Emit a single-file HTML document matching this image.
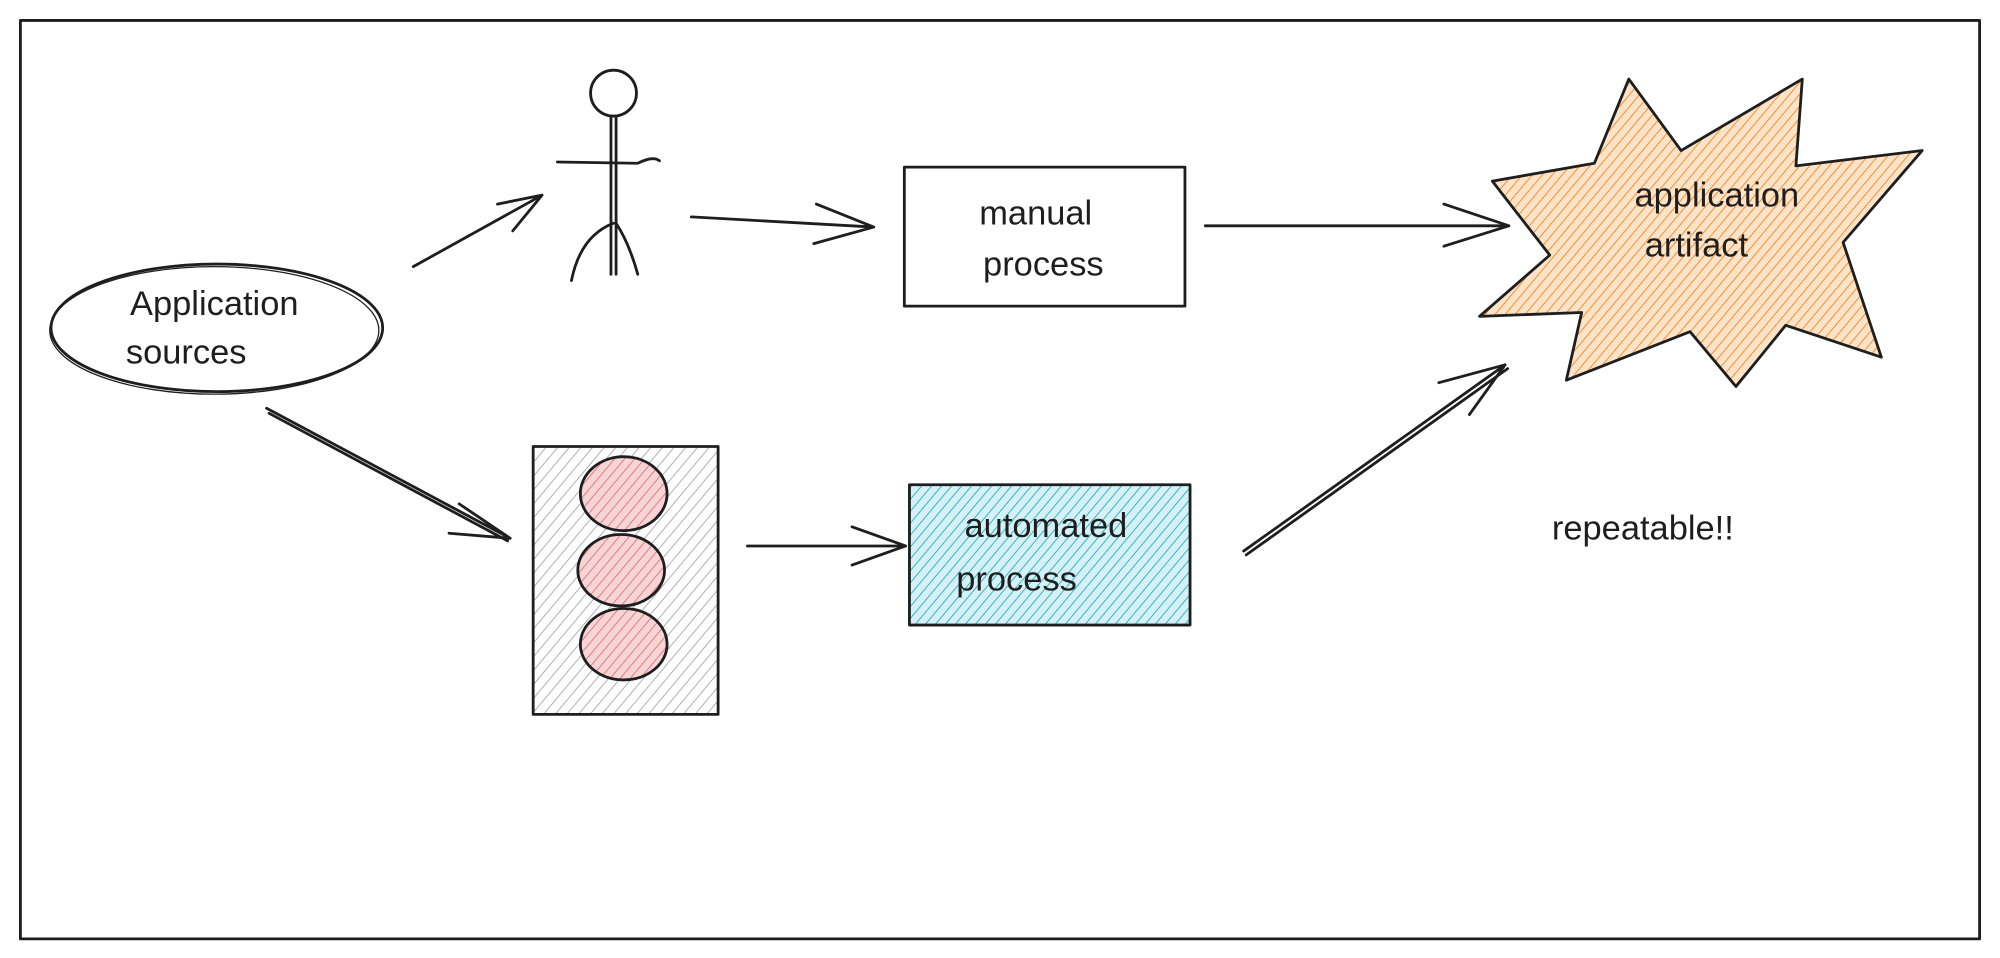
<!DOCTYPE html>
<html><head><meta charset="utf-8"><style>
html,body{margin:0;padding:0;background:#fff;}
svg{display:block;}
text{font-family:"Liberation Sans",sans-serif;font-size:27px;fill:#1e1e1e;text-anchor:middle;}
</style></head><body>
<svg width="2000" height="958" viewBox="0 0 1568 751" preserveAspectRatio="none">
<defs>
<pattern id="hg" width="7" height="7" patternUnits="userSpaceOnUse" patternTransform="rotate(40)"><line x1="0" y1="0" x2="0" y2="7" stroke="#999" stroke-width="1.2"/></pattern>
<pattern id="hr" width="6" height="6" patternUnits="userSpaceOnUse" patternTransform="rotate(40)"><rect width="6" height="6" fill="#f8d5d5"/><line x1="0" y1="0" x2="0" y2="6" stroke="#e06070" stroke-width="1.2"/></pattern>
<pattern id="hc" width="6" height="6" patternUnits="userSpaceOnUse" patternTransform="rotate(40)"><rect width="6" height="6" fill="#d6f1f6"/><line x1="0" y1="0" x2="0" y2="6" stroke="#15aabf" stroke-width="1.3"/></pattern>
<pattern id="ho" width="6" height="6" patternUnits="userSpaceOnUse" patternTransform="rotate(40)"><rect width="6" height="6" fill="#fde3c8"/><line x1="0" y1="0" x2="0" y2="6" stroke="#fd7e14" stroke-width="1.3"/></pattern>
</defs>
<g fill="none" stroke="#1e1e1e" stroke-width="2.2" stroke-linecap="round" stroke-linejoin="round">
<rect x="16" y="16" width="1536" height="720"/>
<ellipse cx="170" cy="257" rx="130" ry="50"/>
<ellipse cx="168" cy="259" rx="129" ry="50" stroke-width="1"/>
<circle cx="481" cy="73" r="18"/>
<line x1="479" y1="91" x2="479" y2="215"/><line x1="483" y1="91" x2="483" y2="215"/>
<path d="M437 127 L500 128 Q512 122 517 126"/>
<path d="M481 175 Q455 185 448 220"/><path d="M483 175 Q493 190 500 215"/>
<path d="M324 209 L425 153 M390 160 L425 153 L402 181"/>
<path d="M542 170 L685 178 M640 160 L685 178 L638 191"/>
<rect x="709" y="131" width="220" height="109"/>
<path d="M945 177 L1183 177 M1132 160 L1183 177 L1132 193"/>
<path d="M1170 142 L1250 128 L1277 62 L1318 118 L1413 62 L1408 130 L1507 118 L1445 190 L1475 280 L1400 255 L1361 303 L1325 260 L1228 298 L1240 245 L1160 248 L1215 200 Z" fill="url(#ho)"/>
<path d="M209 320 L400 422 M211 324 L398 424 M360 395 L400 422 L352 418"/>
<rect x="418" y="350" width="145" height="210" fill="url(#hg)"/>
<ellipse cx="489" cy="387" rx="34" ry="29" fill="url(#hr)"/>
<ellipse cx="487" cy="447" rx="34" ry="28" fill="url(#hr)"/>
<ellipse cx="489" cy="505" rx="34" ry="28" fill="url(#hr)"/>
<path d="M586 428 L710 428 M668 413 L710 428 L668 443"/>
<rect x="713" y="380" width="220" height="110" fill="url(#hc)"/>
<path d="M975 432 L1180 286 M977 435 L1182 289 M1128 300 L1180 286 L1152 325"/>
</g>
<text x="168" y="247">Application</text>
<text x="146" y="285">sources</text>
<text x="812" y="176">manual</text>
<text x="818" y="216">process</text>
<text x="1346" y="162">application</text>
<text x="1330" y="201">artifact</text>
<text x="820" y="421">automated</text>
<text x="797" y="463">process</text>
<text x="1288" y="423">repeatable!!</text>
</svg>
</body></html>
